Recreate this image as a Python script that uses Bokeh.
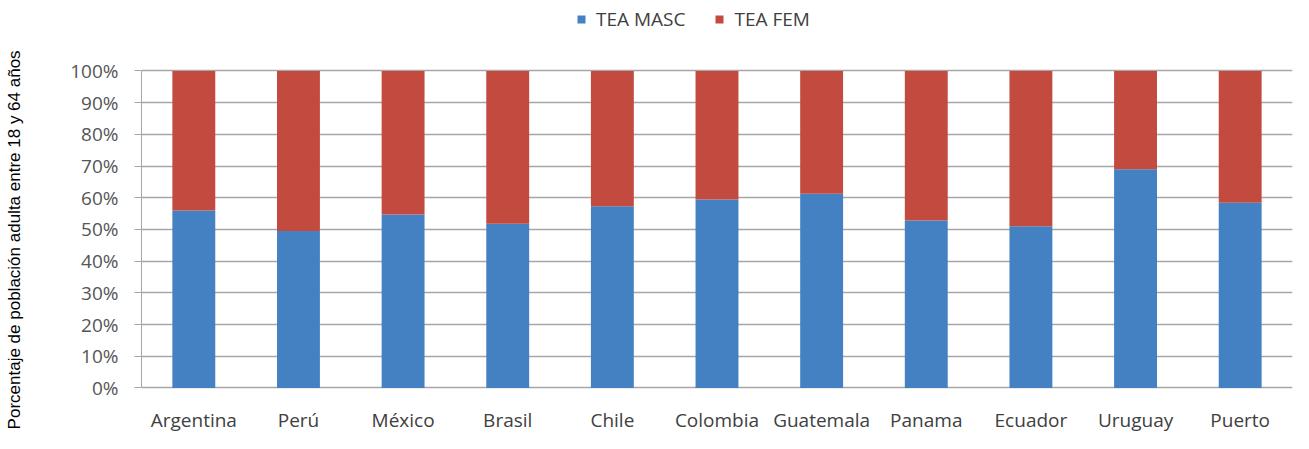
from bokeh.plotting import figure
from bokeh.models import ColumnDataSource, Legend, LegendItem, NumeralTickFormatter, FixedTicker
from bokeh.core.properties import value
from bokeh.embed import file_html
from bokeh.resources import INLINE

countries = ["Argentina", "Perú", "México", "Brasil", "Chile", "Colombia",
             "Guatemala", "Panama", "Ecuador", "Uruguay", "Puerto Rico"]
country_labels = ["Argentina", "Perú", "México", "Brasil", "Chile", "Colombia",
                  "Guatemala", "Panama", "Ecuador", "Uruguay", "Puerto\nRico"]
tea_masc = [0.56, 0.495, 0.547, 0.518, 0.573, 0.595, 0.613, 0.528, 0.51, 0.69, 0.584]
tea_fem = [round(1 - m, 3) for m in tea_masc]
y_ticks = [0, 0.1, 0.2, 0.3, 0.4, 0.5, 0.6, 0.7, 0.8, 0.9, 1.0]
series = ["TEA MASC", "TEA FEM"]
colors = ["#4381c2", "#c34a3f"]
y_title = "Porcentaje de población adulta entre 18 y 64 años"

src = ColumnDataSource(dict(country=countries, masc=tea_masc, fem=tea_fem, label=country_labels))

p = figure(x_range=countries, y_range=(-0.1688, 1.2224), width=1293, height=441,
           output_backend="svg", toolbar_location=None,
           min_border_left=141, min_border_right=1, min_border_top=0, min_border_bottom=0)
p.outline_line_color = None
p.xaxis.visible = False

r = p.vbar_stack(["masc", "fem"], x="country", width=0.41, source=src,
                 color=colors, line_color=None)

p.text(x="country", y=0, text="label", source=src, y_offset=19,
       text_font=value("Open Sans"), text_font_size="19px", text_color="#404040",
       text_align="center", text_baseline="top", text_line_height=1.25)

p.yaxis.bounds = (0, 1)
p.yaxis.ticker = FixedTicker(ticks=y_ticks)
p.yaxis.formatter = NumeralTickFormatter(format="0%")
p.yaxis.axis_label = y_title + "\u00a0" * 8
p.yaxis.axis_label_text_font = "Liberation Sans"
p.yaxis.axis_label_text_font_size = "17px"
p.yaxis.axis_label_text_font_style = "normal"
p.yaxis.axis_label_text_color = "#000000"
p.yaxis.axis_label_standoff = 43
p.yaxis.major_label_text_font = "Open Sans"
p.yaxis.major_label_text_font_size = "19px"
p.yaxis.major_label_text_color = "#555555"
p.yaxis.major_label_standoff = 16
p.yaxis.major_tick_out = 7
p.yaxis.major_tick_in = 0
p.yaxis.minor_tick_line_color = None
p.yaxis.axis_line_color = "#a6a6a6"
p.yaxis.major_tick_line_color = "#a6a6a6"

p.xgrid.grid_line_color = None
p.ygrid.grid_line_color = "#a6a6a6"
p.ygrid.grid_line_width = 1.3
p.ygrid.bounds = (0, 1)

legend = Legend(items=[LegendItem(label=series[0], renderers=[r[0]]),
                       LegendItem(label=series[1], renderers=[r[1]])],
                orientation="horizontal", location=(435, 409),
                padding=0, margin=0, spacing=29, glyph_width=10, glyph_height=10,
                label_standoff=10, label_text_font="Open Sans", label_text_font_size="19px",
                label_text_color="#404040", border_line_color=None, background_fill_alpha=0)
p.add_layout(legend, "center")

open("out.html", "w").write(file_html(p, INLINE))
